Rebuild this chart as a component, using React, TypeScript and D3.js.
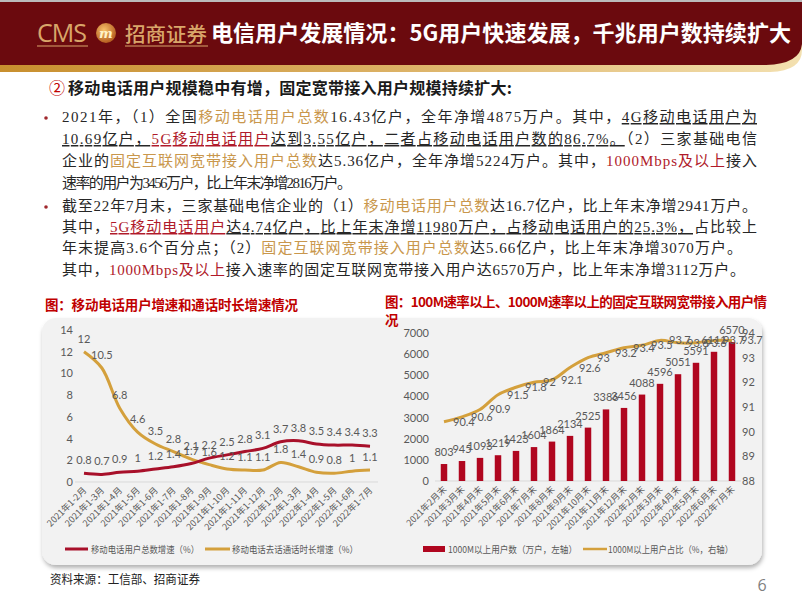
import React from "react";
import * as d3 from "d3";

// ---------- data ----------
const leftCats = [
  "2021年1-2月", "2021年1-3月", "2021年1-4月", "2021年1-5月", "2021年1-6月", "2021年1-7月",
  "2021年1-8月", "2021年1-9月", "2021年1-10月", "2021年1-11月", "2021年1-12月",
  "2022年1-2月", "2022年1-3月", "2022年1-4月", "2022年1-5月", "2022年1-6月", "2022年1-7月",
];
const userGrowth = [0.8, 0.7, 0.9, 1, 1.2, 1.4, 1.7, 2.2, 2.5, 2.8, 3.1, 3.7, 3.8, 3.5, 3.4, 3.4, 3.3];
const callGrowth = [12, 10.5, 6.8, 4.6, 3.5, 2.8, 2.1, 1.6, 1.2, 1.1, 1.1, 1.8, 1.4, 0.9, 0.8, 1, 1.1];
const leftTicks = [0, 2, 4, 6, 8, 10, 12, 14];
const leftLegend = ["移动电话用户总数增速（%）", "移动电话去话通话时长增速（%）"];

const rightCats = [
  "2021年2月末", "2021年3月末", "2021年4月末", "2021年5月末", "2021年6月末", "2021年7月末",
  "2021年8月末", "2021年9月末", "2021年10月末", "2021年11月末", "2021年12月末",
  "2022年2月末", "2022年3月末", "2022年4月末", "2022年5月末", "2022年6月末", "2022年7月末",
];
const gigaUsers = [803, 945, 1093, 1219, 1423, 1604, 1864, 2134, 2525, 3386, 3456, 4088, 4596, 5051, 5591, 6111, 6570];
const shareRatio = [90.4, 90.6, 90.9, 91.5, 91.8, 92, 92.1, 92.6, 93, 93.2, 93.4, 93.5, 93.7, 93.6, 93.6, 93.7, 93.7];
const rightLeftTicks = [0, 1000, 2000, 3000, 4000, 5000, 6000, 7000];
const rightRightTicks = [88, 89, 90, 91, 92, 93, 94];
const rightLegend = ["1000M以上用户数（万户，左轴）", "1000M以上用户占比（%，右轴）"];

const pageTitle = "电信用户发展情况：5G用户快速发展，千兆用户数持续扩大";
const heading = "移动电话用户规模稳中有增，固定宽带接入用户规模持续扩大:";
const leftTitle = "图：移动电话用户增速和通话时长增速情况";
const rightTitle1 = "图：100M速率以上、1000M速率以上的固定互联网宽带接入用户情";
const rightTitle2 = "况";
const sourceText = "资料来源：工信部、招商证券";

// segments: [text, style] style: "" normal, g gold, r red, u underline, ru red underline
const bullet1: [string, string][][] = [
  [["2021年，（1）全国", ""], ["移动电话用户总数", "g"], ["16.43亿户，全年净增4875万户。其中，", ""], ["4G移动电话用户为", "u"]],
  [["10.69亿户，", "u"], ["5G移动电话用户", "ru"], ["达到3.55亿户，二者占移动电话用户数的86.7%。", "u"], ["（2）三家基础电信", ""]],
  [["企业的", ""], ["固定互联网宽带接入用户总数", "g"], ["达5.36亿户，全年净增5224万户。其中，", ""], ["1000Mbps及以上", "r"], ["接入", ""]],
  [["速率的用户为3456万户，比上年末净增2816万户。", ""]],
];
const bullet2: [string, string][][] = [
  [["截至22年7月末，三家基础电信企业的（1）", ""], ["移动电话用户总数", "g"], ["达16.7亿户，比上年末净增2941万户。", ""]],
  [["其中，", ""], ["5G移动电话用户", "ru"], ["达4.74亿户，比上年末净增11980万户，占移动电话用户的25.3%，", "u"], ["占比较上", ""]],
  [["年末提高3.6个百分点；（2）", ""], ["固定互联网宽带接入用户总数", "g"], ["达5.66亿户，比上年末净增3070万户。", ""]],
  [["其中，", ""], ["1000Mbps及以上", "r"], ["接入速率的固定互联网宽带接入用户达6570万户，比上年末净增3112万户。", ""]],
];

// ---------- styles ----------
const MAROON = "#6b0a0e";
const RED = "#a8102a";
const BAR = "#b0061f";
const GOLD = "#d4a03c";
const TXT_GOLD = "#c9974c";
const TXT_RED = "#b01a2a";
const GRAY = "#595959";
const LABEL_FONT = "Lato, 'Noto Sans CJK SC', sans-serif";
const CJK = "'Noto Sans CJK SC', sans-serif";
const BODY_FONT = "'Liberation Serif', 'Noto Sans CJK SC', serif";

function TextLine({ segs, x, y, len }: { segs: [string, string][]; x: number; y: number; len: number }) {
  return (
    <text x={x} y={y} fontSize={15} fontFamily={BODY_FONT} fill="#262626" textLength={len} lengthAdjust="spacing">
      {segs.map(([t, s], i) => (
        <tspan
          key={i}
          fill={s === "g" ? TXT_GOLD : s === "r" || s === "ru" ? TXT_RED : "#262626"}
          textDecoration={s === "u" || s === "ru" ? "underline" : undefined}
        >
          {t}
        </tspan>
      ))}
    </text>
  );
}

export default function App() {
  // left chart scales
  const xL = d3.scalePoint<string>().domain(leftCats).range([84, 370]);
  const yL = d3.scaleLinear().domain([0, 14]).range([482, 330]);
  const lineL = d3
    .line<number>()
    .x((_, i) => xL(leftCats[i]) as number)
    .y((d) => yL(d))
    .curve(d3.curveCatmullRom.alpha(0.5));

  // right chart scales
  const xR = d3.scaleBand<string>().domain(rightCats).range([435, 741]).paddingInner(0.64).paddingOuter(0.32);
  const cx = (i: number) => (xR(rightCats[i]) as number) + xR.bandwidth() / 2;
  const yR1 = d3.scaleLinear().domain([0, 7000]).range([481, 333]);
  const yR2 = d3.scaleLinear().domain([88, 94]).range([481, 333]);
  const lineR = d3
    .line<number>()
    .x((_, i) => cx(i))
    .y((d) => yR2(d))
    .curve(d3.curveCatmullRom.alpha(0.5));

  const lineWidths1 = [695, 695, 695, 290];
  const lineWidths2 = [695, 695, 680, 683];
  const lineY1 = [122, 144, 166, 188];
  const lineY2 = [211, 232, 253, 275];

  return (
    <svg
      width={802}
      height={602}
      style={{ position: "absolute", left: 0, top: 0, background: "#fff" }}
      xmlns="http://www.w3.org/2000/svg"
    >
      <defs>
        <linearGradient id="goldStripe" x1="0" x2="1" y1="0" y2="0">
          <stop offset="0" stopColor="#c88f2e" />
          <stop offset="0.5" stopColor="#dcb266" />
          <stop offset="1" stopColor="#f3e0b0" />
        </linearGradient>
        <radialGradient id="emblem" cx="0.4" cy="0.35" r="0.7">
          <stop offset="0" stopColor="#f7c26b" />
          <stop offset="1" stopColor="#b0561a" />
        </radialGradient>
        <filter id="shadow" x="-5%" y="-5%" width="110%" height="115%">
          <feDropShadow dx="1" dy="3" stdDeviation="2" floodColor="#000" floodOpacity="0.3" />
        </filter>
      </defs>

      {/* header band */}
      <path d="M0,0 H802 V50 Q802,71 770,72 H0 Z" fill="url(#goldStripe)" />
      <path d="M0,0 H802 V44 Q800,64 766,65 H0 Z" fill={MAROON} />
      <rect x={0} y={0} width={802} height={2} fill="#bbb" />

      {/* logo */}
      <text x={37} y={42} fontSize={25} fontFamily="'Open Sans', sans-serif" fontWeight={400} fill="#d9a66a" textLength={50}>
        CMS
      </text>
      <line x1={37} x2={88} y1={46} y2={46} stroke="#d9a66a" strokeWidth={1.2} />
      <circle cx={106} cy={33} r={10} fill="url(#emblem)" />
      <text x={106} y={38} fontSize={13} fontStyle="italic" fontWeight={700} fontFamily="'DejaVu Serif', serif" fill="#fff3c8" textAnchor="middle">
        m
      </text>
      <text x={125} y={42} fontSize={20} fontFamily={CJK} fontWeight={500} fill="#d9a66a" textLength={82} lengthAdjust="spacingAndGlyphs">
        招商证券
      </text>
      <line x1={125} x2={208} y1={46} y2={46} stroke="#d9a66a" strokeWidth={1.2} />

      <text x={211} y={41} fontSize={22} fontFamily={CJK} fontWeight={700} fill="#fff" textLength={580} lengthAdjust="spacingAndGlyphs">
        {pageTitle}
      </text>

      {/* heading */}
      <text x={49} y={94} fontSize={16} fontFamily={CJK} fill="#c00000">
        ②
      </text>
      <text x={68} y={94} fontSize={16} fontFamily={CJK} fontWeight={700} fill="#1a1a1a" textLength={444} lengthAdjust="spacing">
        {heading}
      </text>

      {/* bullets */}
      <circle cx={46} cy={118} r={1.8} fill="#a0282d" />
      {bullet1.map((segs, i) => (
        <TextLine key={"b1" + i} segs={segs} x={62} y={lineY1[i]} len={lineWidths1[i]} />
      ))}
      <circle cx={46} cy={207} r={1.8} fill="#a0282d" />
      {bullet2.map((segs, i) => (
        <TextLine key={"b2" + i} segs={segs} x={62} y={lineY2[i]} len={lineWidths2[i]} />
      ))}

      {/* chart titles */}
      <text x={45} y={310} fontSize={13.5} fontFamily={CJK} fontWeight={700} fill="#c00000" textLength={253} lengthAdjust="spacing">
        {leftTitle}
      </text>

      {/* panel */}
      <rect x={42} y={318} width={720} height={247} rx={14} fill="#f2f2f2" filter="url(#shadow)" />

      <text x={385} y={307} fontSize={13.5} fontFamily={CJK} fontWeight={700} fill="#c00000" textLength={382} lengthAdjust="spacing">
        {rightTitle1}
      </text>
      <text x={385} y={325} fontSize={13.5} fontFamily={CJK} fontWeight={700} fill="#c00000">
        {rightTitle2}
      </text>

      {/* ---------- left chart ---------- */}
      <line x1={75} x2={378} y1={yL(0)} y2={yL(0)} stroke="#d9d9d9" strokeWidth={1} />
      {leftTicks.map((t) => (
        <text key={t} x={73} y={yL(t) + 4} fontSize={11} fontFamily={LABEL_FONT} fill={GRAY} textAnchor="end">
          {t}
        </text>
      ))}
      {leftCats.map((c) => (
        <text
          key={c}
          transform={`translate(${(xL(c) as number) + 3},${yL(0) + 9}) rotate(-45)`}
          fontSize={9}
          fontFamily={CJK}
          fill={GRAY}
          textAnchor="end"
        >
          {c}
        </text>
      ))}
      <path d={lineL(callGrowth) || ""} fill="none" stroke={GOLD} strokeWidth={3} />
      <path d={lineL(userGrowth) || ""} fill="none" stroke={RED} strokeWidth={3} />
      {callGrowth.map((v, i) => (
        <text key={"c" + i} x={xL(leftCats[i]) as number} y={yL(v) - 9} fontSize={11} fontFamily={LABEL_FONT} fill={GRAY} textAnchor="middle">
          {v}
        </text>
      ))}
      {userGrowth.map((v, i) => (
        <text key={"u" + i} x={xL(leftCats[i]) as number} y={yL(v) - 9} fontSize={11} fontFamily={LABEL_FONT} fill={GRAY} textAnchor="middle">
          {v}
        </text>
      ))}
      {/* left legend */}
      <line x1={65} x2={88} y1={549} y2={549} stroke={RED} strokeWidth={3} />
      <text x={91} y={553} fontSize={9.5} fontFamily={CJK} fill={GRAY} textLength={108} lengthAdjust="spacingAndGlyphs">
        {leftLegend[0]}
      </text>
      <line x1={205} x2={230} y1={549} y2={549} stroke={GOLD} strokeWidth={3} />
      <text x={232} y={553} fontSize={9.5} fontFamily={CJK} fill={GRAY} textLength={126} lengthAdjust="spacingAndGlyphs">
        {leftLegend[1]}
      </text>

      {/* ---------- right chart ---------- */}
      <line x1={435} x2={741} y1={yR1(0)} y2={yR1(0)} stroke="#d9d9d9" strokeWidth={1} />
      {rightLeftTicks.map((t) => (
        <text key={t} x={429} y={yR1(t) + 4} fontSize={11} fontFamily={LABEL_FONT} fill={GRAY} textAnchor="end">
          {t}
        </text>
      ))}
      {rightRightTicks.map((t) => (
        <text key={t} x={742} y={yR2(t) + 4} fontSize={11} fontFamily={LABEL_FONT} fill={GRAY} textAnchor="start">
          {t}
        </text>
      ))}
      {rightCats.map((c, i) => (
        <text
          key={c}
          transform={`translate(${cx(i) + 3},${yR1(0) + 9}) rotate(-45)`}
          fontSize={9}
          fontFamily={CJK}
          fill={GRAY}
          textAnchor="end"
        >
          {c}
        </text>
      ))}
      {gigaUsers.map((v, i) => (
        <rect key={"b" + i} x={xR(rightCats[i]) as number} y={yR1(v)} width={xR.bandwidth()} height={yR1(0) - yR1(v)} fill={BAR} />
      ))}
      <path d={lineR(shareRatio) || ""} fill="none" stroke={GOLD} strokeWidth={3} />
      {gigaUsers.map((v, i) => (
        <text key={"bl" + i} x={cx(i)} y={yR1(v) - 8} fontSize={11} fontFamily={LABEL_FONT} fill={GRAY} textAnchor="middle">
          {v}
        </text>
      ))}
      {shareRatio.map((v, i) => (
        <text key={"sl" + i} x={cx(i) + 9} y={yR2(v) + 4} fontSize={11} fontFamily={LABEL_FONT} fill={GRAY} textAnchor="start">
          {v}
        </text>
      ))}
      {/* right legend */}
      <rect x={423} y={546} width={22} height={6} fill={BAR} />
      <text x={448} y={553} fontSize={9.5} fontFamily={CJK} fill={GRAY} textLength={129} lengthAdjust="spacingAndGlyphs">
        {rightLegend[0]}
      </text>
      <line x1={583} x2={607} y1={549} y2={549} stroke={GOLD} strokeWidth={2.5} />
      <text x={608} y={553} fontSize={9.5} fontFamily={CJK} fill={GRAY} textLength={125} lengthAdjust="spacingAndGlyphs">
        {rightLegend[1]}
      </text>

      {/* footer */}
      <text x={50} y={584} fontSize={12.5} fontFamily={BODY_FONT} fill="#222" textLength={150} lengthAdjust="spacingAndGlyphs">
        {sourceText}
      </text>
      <text x={762} y={591} fontSize={16} fontFamily="'Open Sans', sans-serif" fill="#7f7f7f" textAnchor="middle">
        6
      </text>
    </svg>
  );
}
